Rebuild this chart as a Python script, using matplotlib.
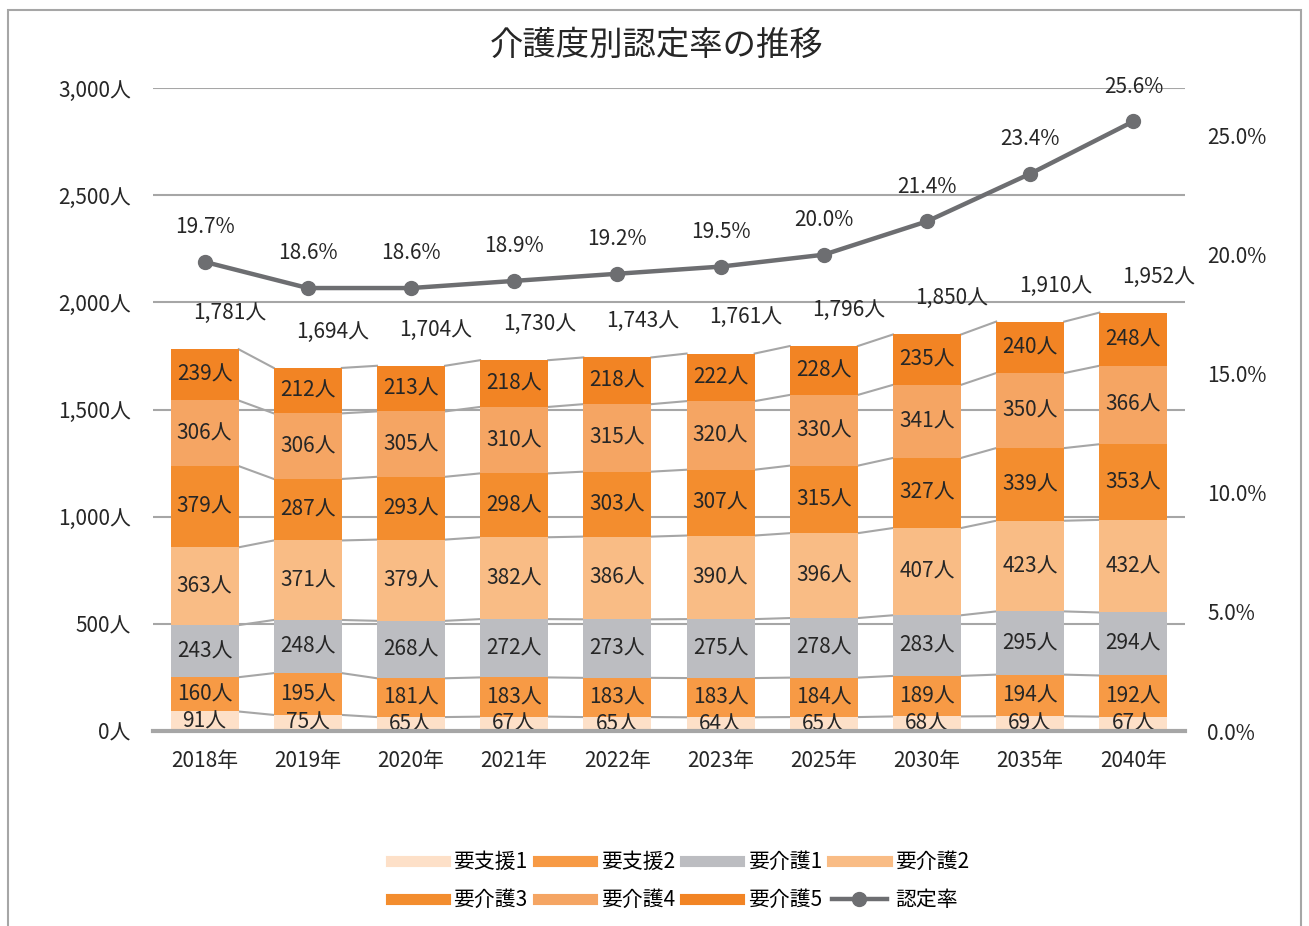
import numpy as np
import matplotlib
matplotlib.use("Agg")
import matplotlib.pyplot as plt
from matplotlib.lines import Line2D
from matplotlib.patches import Rectangle

plt.rcParams['font.family'] = ['Noto Sans CJK JP', 'DejaVu Sans']

# data
years = ['2018年', '2019年', '2020年', '2021年', '2022年', '2023年', '2025年', '2030年', '2035年', '2040年']
series_names = ['要支援1', '要支援2', '要介護1', '要介護2', '要介護3', '要介護4', '要介護5']
shien1 = [91, 75, 65, 67, 65, 64, 65, 68, 69, 67]
shien2 = [160, 195, 181, 183, 183, 183, 184, 189, 194, 192]
kaigo1 = [243, 248, 268, 272, 273, 275, 278, 283, 295, 294]
kaigo2 = [363, 371, 379, 382, 386, 390, 396, 407, 423, 432]
kaigo3 = [379, 287, 293, 298, 303, 307, 315, 327, 339, 353]
kaigo4 = [306, 306, 305, 310, 315, 320, 330, 341, 350, 366]
kaigo5 = [239, 212, 213, 218, 218, 222, 228, 235, 240, 248]
totals = [1781, 1694, 1704, 1730, 1743, 1761, 1796, 1850, 1910, 1952]
rate = [19.7, 18.6, 18.6, 18.9, 19.2, 19.5, 20.0, 21.4, 23.4, 25.6]

colors = ['#FDE0C8', '#F79A45', '#BCBDC1', '#F9BC85', '#F38D2E', '#F5A563', '#F28424']
line_color = '#6D6E71'
grid_color = '#A6A6A6'
text_color = '#262626'

fig = plt.figure(figsize=(13.09, 9.26), dpi=100)
ax = fig.add_axes([153 / 1309, 1 - 731 / 926, 1032 / 1309, 643 / 926])

x = np.arange(len(years))
w = 0.66
stack = [shien1, shien2, kaigo1, kaigo2, kaigo3, kaigo4, kaigo5]
bottom = np.zeros(len(years))
for vals, c, name in zip(stack, colors, series_names):
    vals = np.array(vals)
    ax.bar(x, vals, w, bottom=bottom, color=c, label=name, zorder=3)
    for xi, b, v in zip(x, bottom, vals):
        ax.text(xi, b + v / 2, f'{v}人', ha='center', va='center',
                fontsize=15, color=text_color, zorder=5)
    top = bottom + vals
    # series lines between bars
    for i in range(len(x) - 1):
        ax.plot([x[i] + w / 2, x[i + 1] - w / 2], [top[i], top[i + 1]],
                color=grid_color, lw=1.5, zorder=2)
    bottom = top

for xi, t in zip(x, totals):
    ax.annotate(f'{t:,}人', (xi, t), xytext=(18, 26), textcoords='offset points',
                ha='center', va='center', fontsize=15, color=text_color)

ax.set_xlim(-0.5, len(years) - 0.5)
ax.set_ylim(0, 3000)
ax.set_yticks(range(0, 3001, 500))
ax.set_yticklabels([f'{v:,}人' for v in range(0, 3001, 500)])
ax.set_xticks(x)
ax.set_xticklabels(years)
ax.tick_params(axis='y', length=0, pad=16, labelsize=15, labelcolor=text_color)
ax.tick_params(axis='x', length=0, pad=14, labelsize=15, labelcolor=text_color)
ax.grid(axis='y', color=grid_color, lw=1.5, zorder=0)
for s in ['left', 'right', 'top']:
    ax.spines[s].set_visible(False)
ax.spines['bottom'].set_color(grid_color)
ax.spines['bottom'].set_linewidth(3)
ax.spines['bottom'].set_zorder(6)

ax2 = ax.twinx()
ax2.plot(x, rate, color=line_color, lw=3.2, marker='o', ms=10, zorder=4, label='認定率')
for xi, r in zip(x, rate):
    ax2.annotate(f'{r:.1f}%', (xi, r), xytext=(0, 25), textcoords='offset points',
                 ha='center', va='center', fontsize=15, color=text_color)
ax2.set_ylim(0, 27.0)
ax2.set_yticks([0, 5, 10, 15, 20, 25])
ax2.set_yticklabels([f'{v:.1f}%' for v in [0, 5, 10, 15, 20, 25]])
ax2.tick_params(axis='y', length=0, pad=16, labelsize=15, labelcolor=text_color)
for s in ['left', 'right', 'top', 'bottom']:
    ax2.spines[s].set_visible(False)

fig.text(657 / 1309, 1 - 45 / 926, '介護度別認定率の推移', ha='center', va='center',
         fontsize=24, color=text_color)

handles = [Line2D([0], [0], color=c, lw=8) for c in colors]
handles.append(Line2D([0], [0], color=line_color, lw=3.2, marker='o', ms=10))
labels = series_names + ['認定率']
# legend fills column by column, reorder so it reads row by row
order = [0, 4, 1, 5, 2, 6, 3, 7]
fig.legend([handles[i] for i in order], [labels[i] for i in order], loc='center',
           bbox_to_anchor=(680 / 1309, 1 - 881 / 926),
           ncol=4, frameon=False, fontsize=15, handlelength=2.6, handletextpad=0.4,
           columnspacing=0.5, labelspacing=0.75)

fig.add_artist(Rectangle((8 / 1309, -0.05), 1293 / 1309, 1.05 - 10 / 926,
                         transform=fig.transFigure, fill=False, ec='#A6A6A6', lw=1.5))

fig.savefig('out.png', dpi=100)
